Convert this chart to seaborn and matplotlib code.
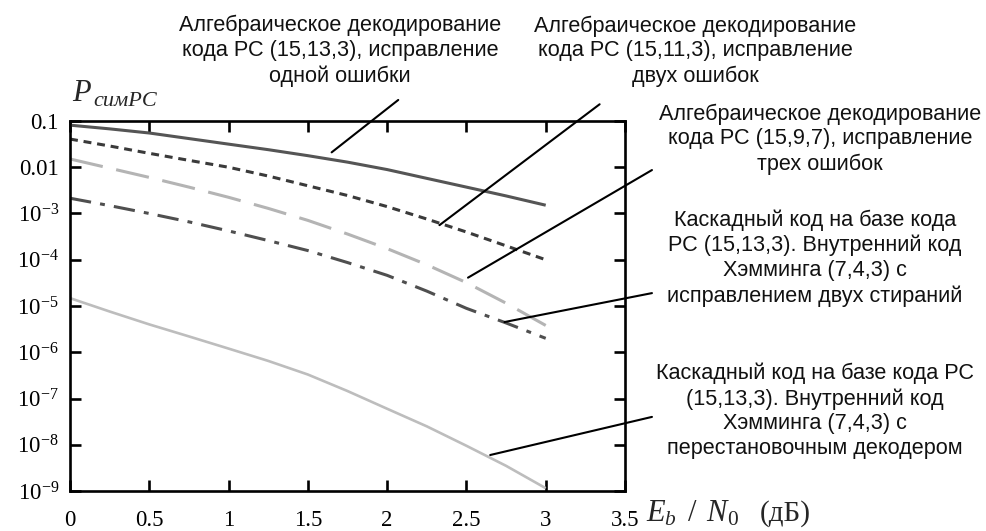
import numpy as np
import pandas as pd
import seaborn as sns
import matplotlib
matplotlib.use("Agg")
import matplotlib.pyplot as plt
from matplotlib.ticker import NullLocator, FixedLocator, FixedFormatter

# ---------------- data ----------------
ebn0 = [0, 0.25, 0.5, 0.75, 1, 1.25, 1.5, 1.75, 2, 2.25, 2.5, 2.75, 3]
rs_15_13 = [8.13e-2, 6.76e-2, 5.50e-2, 4.17e-2, 3.16e-2, 2.40e-2, 1.78e-2,
            1.29e-2, 8.91e-3, 5.75e-3, 3.72e-3, 2.40e-3, 1.51e-3]
rs_15_11 = [4.07e-2, 2.88e-2, 2.00e-2, 1.41e-2, 1.00e-2, 6.46e-3, 3.98e-3,
            2.45e-3, 1.41e-3, 7.6e-4, 3.98e-4, 2.0e-4, 1.0e-4]
rs_15_9 = [1.51e-2, 9.55e-3, 6.03e-3, 3.72e-3, 2.24e-3, 1.29e-3, 7.1e-4,
           3.6e-4, 1.74e-4, 7.8e-5, 3.2e-5, 1.15e-5, 3.8e-6]
casc_erase = [2.14e-3, 1.48e-3, 1.0e-3, 6.6e-4, 4.2e-4, 2.6e-4, 1.58e-4,
              8.7e-5, 4.6e-5, 2.1e-5, 8.9e-6, 4.3e-6, 2.0e-6]
casc_perm = [1.48e-5, 7.6e-6, 4.0e-6, 2.2e-6, 1.2e-6, 6.5e-7, 3.3e-7,
             1.45e-7, 6.0e-8, 2.5e-8, 9.5e-9, 3.5e-9, 1.15e-9]

x_ticks = [0, 0.5, 1, 1.5, 2, 2.5, 3, 3.5]
x_tick_labels = ["0", "0.5", "1", "1.5", "2", "2.5", "3", "3.5"]
y_ticks = [1e-1, 1e-2, 1e-3, 1e-4, 1e-5, 1e-6, 1e-7, 1e-8, 1e-9]
y_tick_labels = ["0.1", "0.01", "$10^{-3}$", "$10^{-4}$", "$10^{-5}$",
                 "$10^{-6}$", "$10^{-7}$", "$10^{-8}$", "$10^{-9}$"]

label_texts = [
    "Алгебраическое декодирование\nкода РС (15,13,3), исправление\nодной ошибки",
    "Алгебраическое декодирование\nкода РС (15,11,3), исправление\nдвух ошибок",
    "Алгебраическое декодирование\nкода РС (15,9,7), исправление\nтрех ошибок",
    "Каскадный код на базе кода\nРС (15,13,3). Внутренний код\nХэмминга (7,4,3) с\nисправлением двух стираний",
    "Каскадный код на базе кода РС\n(15,13,3). Внутренний код\nХэмминга (7,4,3) с\nперестановочным декодером",
]
# leader-line anchors on the curves (data coords) and outer ends (data coords)
leader_curve_x = [1.65, 2.33, 2.51, 2.74, 2.65]
leader_curve_y = [2.1e-2, 5.6e-4, 4.1e-5, 4.5e-6, 6.0e-9]
leader_out_x = [2.07, 3.34, 3.67, 3.67, 3.67]
leader_out_y = [2.85e-1, 2.3e-1, 8.7e-3, 1.9e-5, 4.0e-8]

# ---------------- style ----------------
sns.set_theme(style="white")
plt.rcParams["font.family"] = ["Liberation Sans", "DejaVu Sans"]
plt.rcParams["mathtext.fontset"] = "custom"
plt.rcParams["mathtext.rm"] = "Liberation Serif"
plt.rcParams["mathtext.it"] = "Liberation Serif:italic"
plt.rcParams["mathtext.default"] = "rm"

W, H = 986, 531
fig = plt.figure(figsize=(W / 100, H / 100), dpi=100)
ax = fig.add_axes([70 / W, 1 - 491 / H, (625 - 70) / W, (491 - 121) / H])

series = [
    (rs_15_13, "#555555", 2.2, None),
    (rs_15_11, "#3a3a3a", 2.2, (2.6, 1.9)),
    (rs_15_9, "#b4b4b4", 2.2, (11, 4.5)),
    (casc_erase, "#4f4f4f", 2.2, (7, 3, 1.6, 3)),
    (casc_perm, "#bdbdbd", 1.9, None),
]
for vals, col, lw, dash in series:
    df = pd.DataFrame({"x": ebn0, "y": vals})
    sns.lineplot(data=df, x="x", y="y", ax=ax, color=col, lw=lw)
    line = ax.lines[-1]
    if dash is not None:
        line.set_dashes(dash)
    line.set_solid_capstyle("butt")
    line.set_dash_capstyle("butt")
    line.set_solid_joinstyle("round")
    line.set_dash_joinstyle("round")

ax.set_yscale("log")
ax.set_xlim(0, 3.5)
ax.set_ylim(1e-9, 1e-1)
ax.xaxis.set_major_locator(FixedLocator(x_ticks))
ax.xaxis.set_major_formatter(FixedFormatter(x_tick_labels))
ax.yaxis.set_major_locator(FixedLocator(y_ticks))
ax.yaxis.set_major_formatter(FixedFormatter(y_tick_labels))
ax.yaxis.set_minor_locator(NullLocator())
ax.xaxis.set_minor_locator(NullLocator())
ax.set_xlabel("")
ax.set_ylabel("")
ax.grid(False)

for sp in ax.spines.values():
    sp.set_color("black")
    sp.set_linewidth(1.9)
ax.tick_params(axis="both", which="major", direction="in", length=8, width=1.9,
               color="black", top=True, right=True, bottom=True, left=True)
ax.tick_params(axis="x", pad=14)
ax.tick_params(axis="y", pad=8)
for lab in ax.get_xticklabels() + ax.get_yticklabels():
    lab.set_fontfamily("Liberation Serif")
    lab.set_fontsize(16.5)
    lab.set_color("black")

# leader lines
for cx, cy, ox, oy in zip(leader_curve_x, leader_curve_y, leader_out_x, leader_out_y):
    ax.annotate("", xy=(cx, cy), xytext=(ox, oy), xycoords="data", textcoords="data",
                annotation_clip=False,
                arrowprops=dict(arrowstyle="-", color="black", lw=1.5,
                                shrinkA=0, shrinkB=0))

# labels (positions in pixels -> figure fraction)
label_pos = [(340, 51), (695, 51), (820, 139), (815, 258), (815, 411)]
for txt, (px, py) in zip(label_texts, label_pos):
    fig.text(px / W, 1 - py / H, txt, ha="center", va="center", ma="center",
             fontsize=15.6, color="#111111", linespacing=1.24,
             family=["Liberation Sans", "DejaVu Sans"])

# axis titles
fig.text(72 / W, 1 - 101 / H, "$\\mathit{P}$", fontsize=22, ha="left",
         va="baseline")
fig.text(93 / W, 1 - 106 / H, "симPC", fontsize=16, ha="left", va="baseline",
         family=["Liberation Serif"], style="italic")
fig.text(646 / W, 1 - 521 / H, "$\\mathit{E_b}\\ \\,/\\ \\,\\mathit{N}_0$",
         fontsize=22, ha="left", va="baseline")
fig.text(760 / W, 1 - 521 / H, "(дБ)", fontsize=21, ha="left", va="baseline",
         family=["Liberation Serif"])

fig.savefig("out.png", dpi=100)
